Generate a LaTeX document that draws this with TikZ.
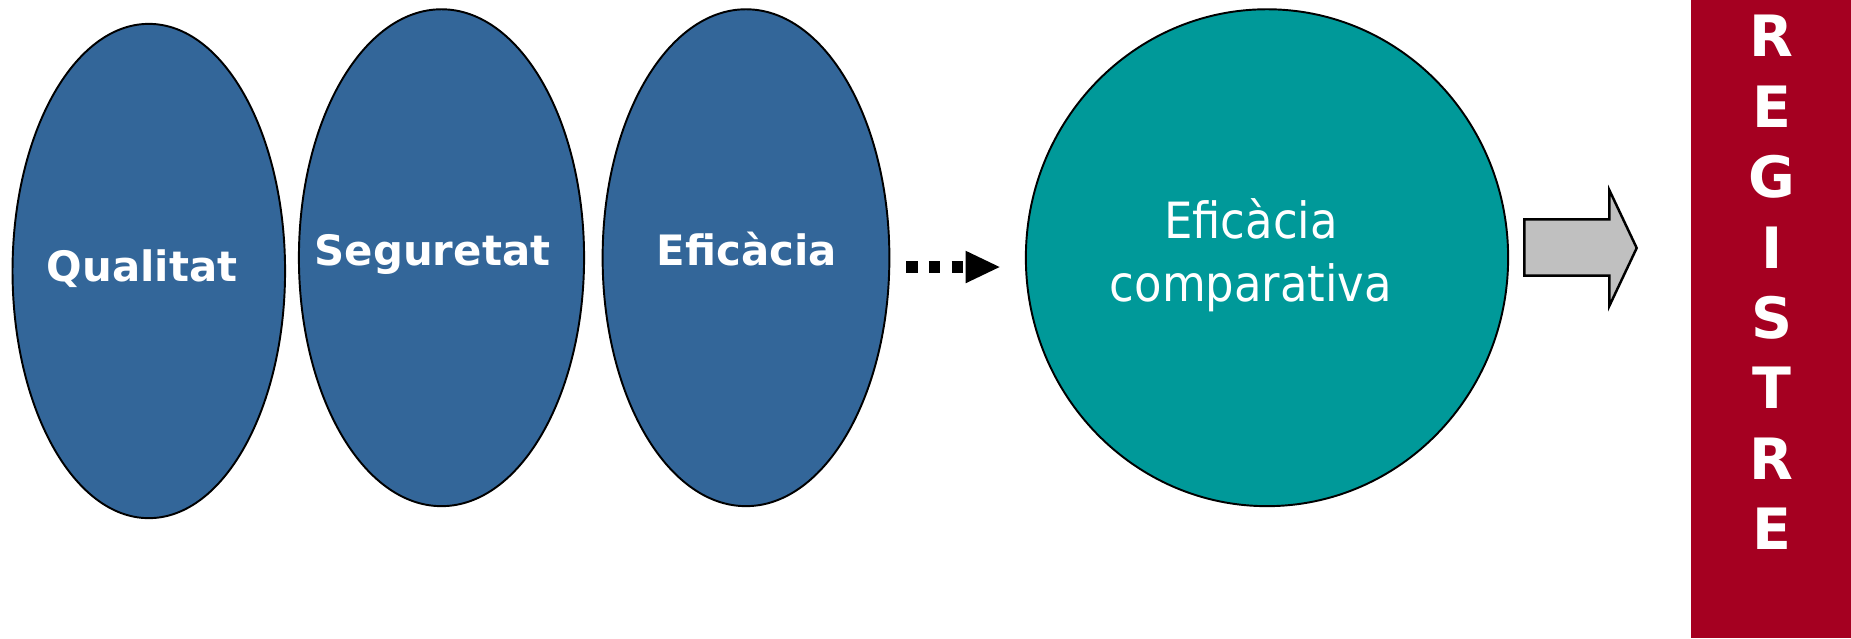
\documentclass[tikz,border=0pt]{standalone}
\usepackage{fontspec}
\setmainfont{DejaVu Sans}
\newfontfamily\condsans{DejaVu Sans Condensed}
\usetikzlibrary{shapes.geometric,arrows.meta}
\definecolor{blobblue}{RGB}{51,102,153}
\definecolor{compteal}{RGB}{0,153,153}
\definecolor{regred}{RGB}{165,0,33}
\definecolor{arrowgray}{RGB}{192,192,192}

\begin{document}
\begin{tikzpicture}[x=0.01cm,y=0.01cm,
	blob/.style={ellipse,draw=black,line width=0.55pt,fill=blobblue},
	blobtext/.style={text=white,anchor=base,font=\fontsize{11.9pt}{14pt}\selectfont\bfseries},
	comptext/.style={text=white,align=center,font=\fontsize{14.2pt}{18pt}\selectfont\condsans},
	dotarrow/.style={line width=0.117cm,dash pattern=on 0.113cm off 0.113cm,
		-{Triangle[length=0.34cm,width=0.326cm,line width=0pt]}},
	regletter/.style={text=white,anchor=base,font=\fontsize{16.2pt}{18pt}\selectfont\bfseries}]
			\tikzstyle{every node}+=[inner sep=0pt]
			\useasboundingbox (0,0) rectangle (1851,-638);
			% the three ellipses
			\node [blob,minimum width=2.724cm,minimum height=4.94cm] (qual) at (148.8,-271) {};
			\node [blobtext] (qualtxt) at (142,-281) {Qualitat};
			\node [blob,minimum width=2.85cm,minimum height=4.966cm] (segur) at (441.5,-257.7) {};
			\node [blobtext] (segurtxt) at (432.5,-265) {Seguretat};
			\node [blob,minimum width=2.866cm,minimum height=4.966cm] (efic) at (746,-257.7) {};
			\node [blobtext] (efictxt) at (747,-265) {Eficàcia};
			% comparative
			\node [ellipse,draw=black,line width=0.55pt,fill=compteal,minimum width=4.82cm,minimum height=4.966cm] (effcomp) at (1267,-257.7) {};
			\node [comptext,anchor=base] (comptxt) at (1251,-301.7) {Eficàcia\\comparativa};
			\draw [dotarrow] ([xshift=0.16cm,yshift=-0.093cm]efic.east) -- ([xshift=-0.253cm,yshift=-0.093cm]effcomp.west);
			% gray arrow
			\draw [black,line width=0.7pt,fill=arrowgray] (1524.3,-219.3) -- (1609.3,-219.3) -- (1609.3,-190) -- (1636.7,-248) -- (1609.3,-306) -- (1609.3,-275.7) -- (1524.3,-275.7) -- cycle;
			% register bar
			\node [rectangle,fill=regred,minimum width=1.6cm,minimum height=6.38cm] (reg) at (1771,-319) {};
			\foreach \ch [count=\i from 0] in {R,E,G,I,S,T,R,E}
				\node [regletter] (reg\i) at (1771.7,{-56.7-70.43*\i}) {\ch};
\end{tikzpicture}
\end{document}
